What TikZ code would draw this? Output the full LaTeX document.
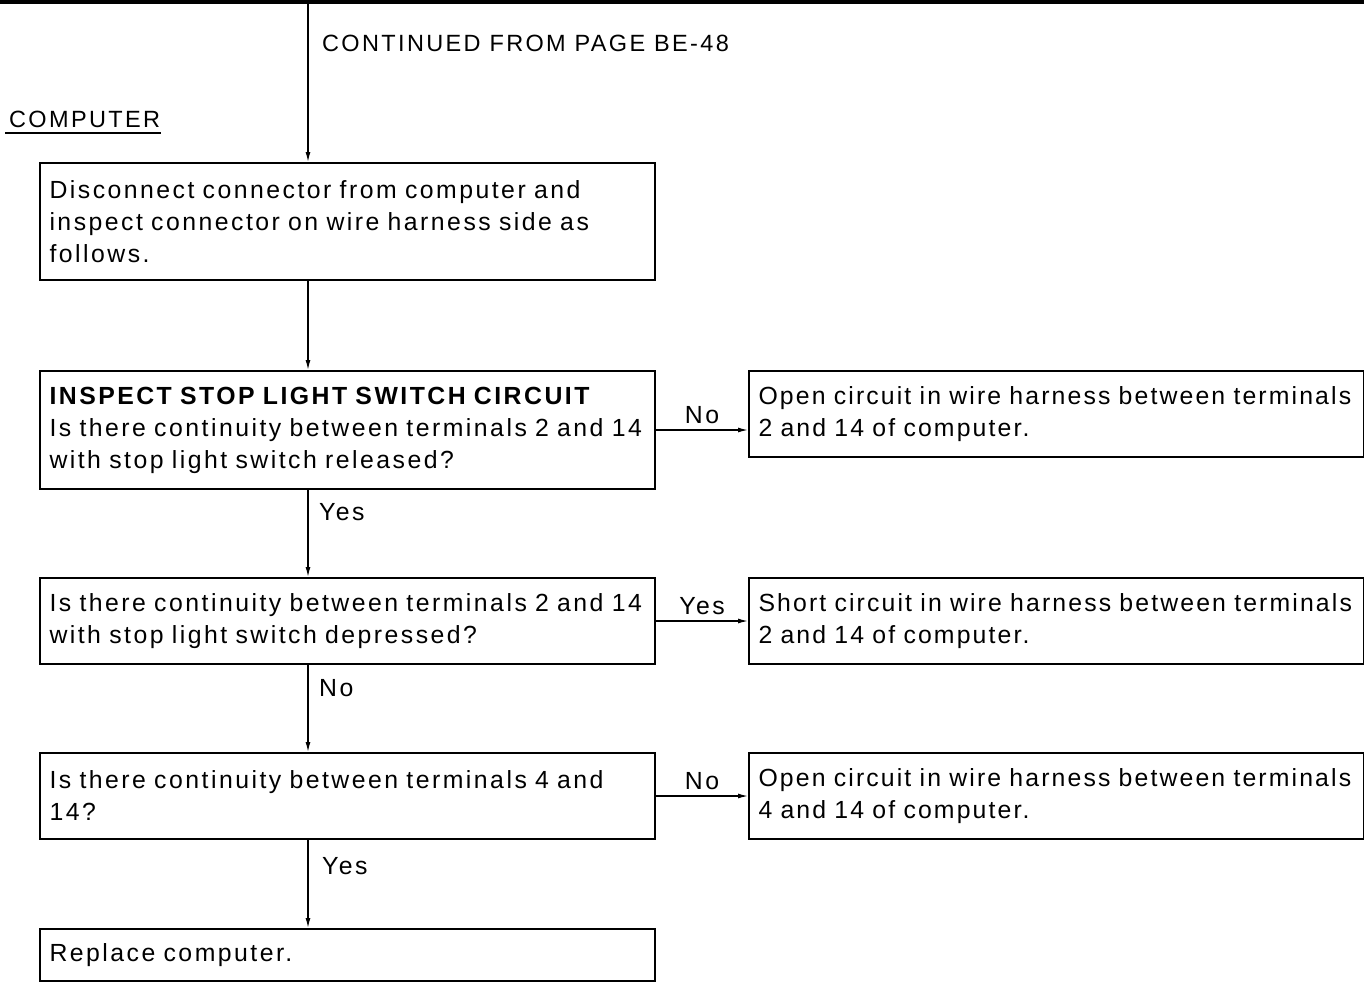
\documentclass[tikz,border=0pt]{standalone}
\usepackage{fontspec}
\setmainfont{Liberation Sans}[LetterSpace=10]
\usetikzlibrary{arrows.meta}
\begin{document}
\begin{tikzpicture}[x=1pt,y=-1pt,
  every node/.style={font=\fontsize{24.8}{32}\selectfont, inner sep=0pt},
  heading/.style={font=\fontsize{23.5}{32}\selectfont, anchor=base west},
  stepbox/.style={draw, line width=2pt, anchor=north west, text width=596pt,
    inner xsep=9.5pt, inner ysep=0pt, align=left, minimum height=#1},
  resultbox/.style={stepbox=#1,
    font=\fontsize{24.8}{32}\selectfont\addfontfeatures{LetterSpace=8.6}},
  flow/.style={line width=1.3pt, -{Latex[length=10pt,width=5pt]}},
  hlabel/.style={midway, anchor=base, yshift=7pt},
  vlabel/.style={anchor=base west},
]
\useasboundingbox (0,0) rectangle (1364,982);

% top rule of the page and the incoming flow line
\fill (0,0) rectangle (1364,4);
\coordinate (start) at (308,3);

\node[heading] (cont) at (322,52) {CONTINUED FROM PAGE BE-48};
\node[heading] (comp) at (9,127) {COMPUTER};
\draw[line width=1.2pt] ([xshift=-4pt,yshift=-6pt]comp.base west) -- ([xshift=1pt,yshift=-6pt]comp.base east);

% left column: inspection steps
\node[stepbox=117pt] (b1) at (39,162) {Disconnect connector from computer and\\inspect connector on wire harness side as\\follows.};
\node[stepbox=118pt] (b2) at (39,370) {\textbf{INSPECT STOP LIGHT SWITCH CIRCUIT}\\Is there continuity between terminals 2 and 14\\with stop light switch released?};
\node[stepbox=86pt] (b3) at (39,577) {Is there continuity between terminals 2 and 14\\with stop light switch depressed?};
\node[stepbox=86pt] (b4) at (39,752) {Is there continuity between terminals 4 and\\14?};
\node[stepbox=52pt] (b5) at (39,928) {Replace computer.};

% right column: results
\node[resultbox=86pt] (r1) at (748,370) {Open circuit in wire harness between terminals\\2 and 14 of computer.};
\node[resultbox=86pt] (r2) at (748,577) {Short circuit in wire harness between terminals\\2 and 14 of computer.};
\node[resultbox=86pt] (r3) at (748,752) {Open circuit in wire harness between terminals\\4 and 14 of computer.};

% vertical flow
\draw[flow] (start) -- (b1.north -| start);
\draw[flow] (b1.south -| start) -- (b2.north -| start);
\draw[flow] (b2.south -| start) -- (b3.north -| start);
\draw[flow] (b3.south -| start) -- (b4.north -| start);
\draw[flow] (b4.south -| start) -- (b5.north -| start);
\path (b2.south -| start) ++(11,30) node[vlabel] (y1) {Yes};
\path (b3.south -| start) ++(11,31) node[vlabel] (n2) {No};
\path (b4.south -| start) ++(14,34) node[vlabel] (y3) {Yes};

% horizontal branches
\draw[flow] (b2.east) -- (b2.east -| r1.west) node[hlabel] (n1) {No};
\draw[flow] (b3.east) -- (b3.east -| r2.west) node[hlabel] (y2) {Yes};
\draw[flow] (b4.east) -- (b4.east -| r3.west) node[hlabel] (n3) {No};
\end{tikzpicture}
\end{document}
